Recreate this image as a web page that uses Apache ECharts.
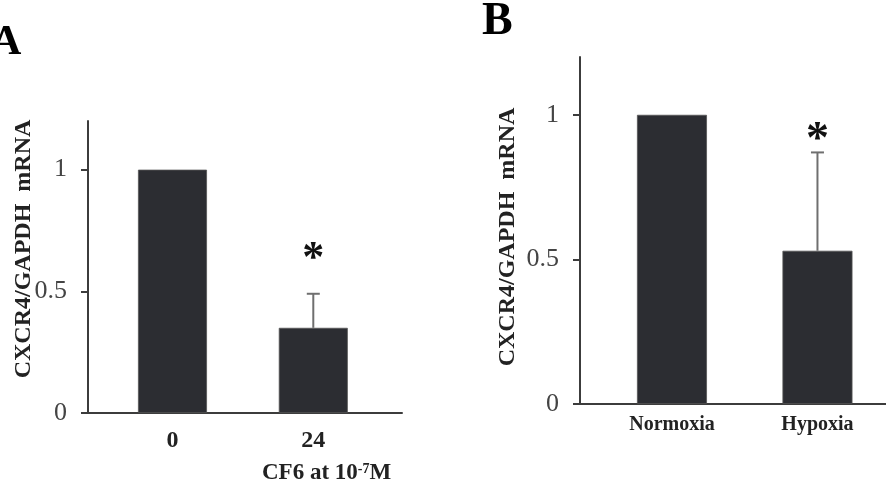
<!DOCTYPE html>
<html>
<head>
<meta charset="utf-8">
<script src="https://cdn.jsdelivr.net/npm/echarts@6/dist/echarts.min.js"></script>
<style>
html,body{margin:0;padding:0;background:#fff;}
#c{width:886px;height:489px;}
</style>
</head>
<body>
<div id="c"></div>
<script>
// ---- data ----
var catsA = ['0', '24'];
var valsA = [1.0, 0.35];
var errA = [null, 0.14];
var sigA = ['', '*'];

var catsB = ['Normoxia', 'Hypoxia'];
var valsB = [1.0, 0.53];
var errB = [null, 0.34];
var sigB = ['', '*'];

var yTicks = [0, 0.5, 1];
var yLabelText = ['0', '0.5', '1'];

var SERIF = '"Liberation Serif", "Times New Roman", serif';
var BAR = '#2c2d32';
var AXIS = '#3c3c3c';
var ERR = '#6f6f6f';

function barData(vals) { return vals.map(function (v, i) { return [i, v]; }); }
function errData(vals, errs) {
  var out = [];
  vals.forEach(function (v, i) { if (errs[i] != null) out.push([i, v, v + errs[i]]); });
  return out;
}

function errorSeries(xi, vals, errs, sigs, starGap, starSize) {
  return {
    type: 'custom', xAxisIndex: xi, yAxisIndex: xi, z: 5,
    data: errData(vals, errs),
    renderItem: function (params, api) {
      var x = api.value(0);
      var lo = api.coord([x, api.value(1)]);
      var hi = api.coord([x, api.value(2)]);
      var star = sigs[x] || '';
      return {
        type: 'group',
        children: [
          { type: 'line', shape: { x1: lo[0], y1: lo[1], x2: hi[0], y2: hi[1] }, style: { stroke: ERR, lineWidth: 2 } },
          { type: 'line', shape: { x1: hi[0] - 6.5, y1: hi[1], x2: hi[0] + 6.5, y2: hi[1] }, style: { stroke: ERR, lineWidth: 2 } },
          { type: 'text', x: hi[0], y: hi[1] - starGap, style: { text: star, font: 'bold ' + starSize + 'px ' + SERIF, fill: '#111', align: 'center', verticalAlign: 'middle' } }
        ]
      };
    }
  };
}

function yAxisCfg(gi) {
  return {
    type: 'value', gridIndex: gi, min: 0, max: 1.2,
    axisLine: { show: true, onZero: false, lineStyle: { color: AXIS, width: 2 } },
    axisTick: { show: true, inside: false, length: 7, customValues: yTicks, lineStyle: { color: AXIS, width: 2 } },
    axisLabel: { show: true, margin: 21, customValues: yTicks, fontFamily: SERIF, fontSize: 26, color: '#444',
      formatter: function (v) { var k = yTicks.indexOf(v); return k >= 0 ? yLabelText[k] : ''; } },
    splitLine: { show: false }
  };
}

function xAxisCfg(gi, cats, mn, mx, fs, margin) {
  return {
    type: 'value', gridIndex: gi, min: mn, max: mx,
    axisLine: { show: true, onZero: false, lineStyle: { color: AXIS, width: 2 } },
    axisTick: { show: false },
    axisLabel: { show: true, margin: margin, customValues: cats.map(function (c, i) { return i; }),
      fontFamily: SERIF, fontWeight: 'bold', fontSize: fs, color: '#222',
      formatter: function (v) { return cats[Math.round(v)] || ''; } },
    splitLine: { show: false }
  };
}

var chart = echarts.init(document.getElementById('c'), null, { renderer: 'canvas' });
chart.setOption({
  animation: false,
  backgroundColor: '#fff',
  title: [
    { text: 'A', left: -14, top: 17, textStyle: { fontFamily: SERIF, fontWeight: 'bold', fontSize: 42, color: '#000' } },
    { text: 'B', left: 477, top: -6, textStyle: { fontFamily: SERIF, fontWeight: 'bold', fontSize: 46, color: '#000' } },
    { text: 'CF6 at 10{sup|-7}M', left: 257, top: 457,
      textStyle: { fontFamily: SERIF, fontWeight: 'bold', fontSize: 23, color: '#222',
        rich: { sup: { fontFamily: SERIF, fontWeight: 'bold', fontSize: 14, color: '#222', verticalAlign: 'top', padding: [0, 0, 8, 0] } } } }
  ],
  graphic: [
    { type: 'text', x: 24, y: 249, rotation: Math.PI / 2,
      style: { text: 'CXCR4/GAPDH  mRNA', font: 'bold 24px ' + SERIF, fill: '#222', align: 'center', verticalAlign: 'middle' } },
    { type: 'text', x: 508, y: 237, rotation: Math.PI / 2,
      style: { text: 'CXCR4/GAPDH  mRNA', font: 'bold 24px ' + SERIF, fill: '#222', align: 'center', verticalAlign: 'middle' } }
  ],
  grid: [
    { left: 88, top: 121, width: 314, height: 292, containLabel: false },
    { left: 580, top: 57, width: 306, height: 347, containLabel: false }
  ],
  xAxis: [
    xAxisCfg(0, catsA, -0.6, 1.63, 24, 16),
    xAxisCfg(1, catsB, -0.632, 1.471, 20, 11)
  ],
  yAxis: [yAxisCfg(0), yAxisCfg(1)],
  series: [
    { type: 'bar', xAxisIndex: 0, yAxisIndex: 0, barWidth: 69, data: barData(valsA),
      itemStyle: { color: BAR, borderColor: '#555', borderWidth: 0.8 } },
    { type: 'bar', xAxisIndex: 1, yAxisIndex: 1, barWidth: 70, data: barData(valsB),
      itemStyle: { color: BAR, borderColor: '#555', borderWidth: 0.8 } },
    errorSeries(0, valsA, errA, sigA, 34, 44),
    errorSeries(1, valsB, errB, sigB, 11, 46)
  ]
});
</script>
</body>
</html>
